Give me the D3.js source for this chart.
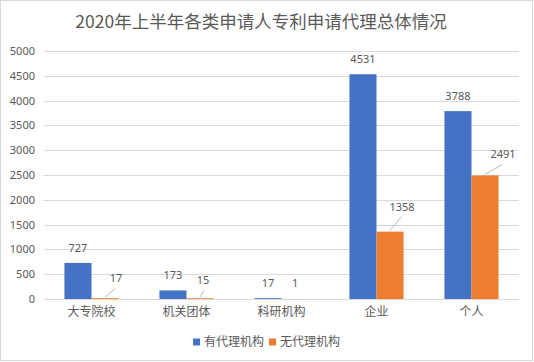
<!DOCTYPE html>
<html>
<head>
<meta charset="utf-8">
<script src="https://cdn.jsdelivr.net/npm/d3@7"></script>
<style>
  body { margin: 0; background: #fff; }
  svg text { font-family: "Noto Sans CJK SC", "Noto Sans", sans-serif; fill: #595959; }
</style>
</head>
<body>
<svg id="chart" width="534" height="362"></svg>
<script>
// Données
var categories = ["大专院校", "机关团体", "科研机构", "企业", "个人"];
var seriesNames = ["有代理机构", "无代理机构"];
var withAgency = [727, 173, 17, 4531, 3788];
var withoutAgency = [17, 15, 1, 1358, 2491];
var yTicks = [0, 500, 1000, 1500, 2000, 2500, 3000, 3500, 4000, 4500, 5000];
var colors = ["#4472C4", "#ED7D31"];

// Décalage manuel des étiquettes orange (comme dans Excel), en pixels
var orangeLabelShift = [[11, -20], [3, -18], [0, -16], [12, -25], [18, -21]];

var svg = d3.select("#chart");
var margin = { left: 44, right: 15, top: 51, bottom: 63 };
var width = 534 - margin.left - margin.right;
var height = 362 - margin.top - margin.bottom;

// bordure
svg.append("rect")
    .attr("x", 0.5).attr("y", 0.5)
    .attr("width", 532).attr("height", 360)
    .attr("fill", "#fff")
    .attr("stroke", "#d9d9d9");

svg.append("text")
    .attr("x", 261).attr("y", 28)
    .attr("text-anchor", "middle")
    .style("font-size", "17.5px")
    .text("2020年上半年各类申请人专利申请代理总体情况");

var g = svg.append("g")
    .attr("transform", "translate(" + margin.left + "," + margin.top + ")");

var x = d3.scaleBand().domain(categories).range([0, width]).paddingInner(0.43).paddingOuter(0.215);
var xs = d3.scaleBand().domain(seriesNames).range([0, x.bandwidth()]);
var y = d3.scaleLinear().domain([0, 5000]).range([height, 0]);

// lignes de grille
g.append("g").selectAll("line")
    .data(yTicks)
    .enter().append("line")
    .attr("x1", 0).attr("x2", width)
    .attr("y1", d => Math.round(y(d)) + 0.5).attr("y2", d => Math.round(y(d)) + 0.5)
    .style("stroke", "#d9d9d9");

// axe Y
var yAxis = g.append("g")
    .call(d3.axisLeft(y).tickValues(yTicks).tickFormat(d3.format("d")).tickSize(0).tickPadding(9));
yAxis.select(".domain").remove();
yAxis.selectAll("text").style("font-size", "11px").style("fill", "#595959")
    .style("font-family", "'Noto Sans', sans-serif");

// axe X
var xAxis = g.append("g")
    .attr("transform", "translate(0," + height + ")")
    .call(d3.axisBottom(x).tickSize(0).tickPadding(8));
xAxis.select(".domain").remove();
xAxis.selectAll("text").style("font-size", "12px").style("fill", "#595959")
    .style("font-family", "'Noto Sans CJK SC', sans-serif");

var rows = categories.map((c, i) => ({ cat: c, i: i, vals: [withAgency[i], withoutAgency[i]] }));

var groups = g.append("g").selectAll("g")
    .data(rows)
    .enter().append("g")
    .attr("transform", d => "translate(" + x(d.cat) + ",0)");

groups.selectAll("rect")
    .data(d => d.vals.map((v, k) => ({ v: v, k: k })))
    .enter().append("rect")
    .attr("x", d => xs(seriesNames[d.k]))
    .attr("width", xs.bandwidth())
    .attr("y", d => y(d.v))
    .attr("height", d => height - y(d.v))
    .attr("fill", d => colors[d.k]);

// étiquettes bleues
groups.append("text")
    .attr("x", xs(seriesNames[0]) + xs.bandwidth() / 2)
    .attr("y", d => y(d.vals[0]) - 11)
    .attr("text-anchor", "middle")
    .style("font-size", "11px")
    .style("font-family", "'Noto Sans', sans-serif")
    .text(d => d.vals[0]);

// étiquettes orange avec lignes de rappel
groups.each(function (d) {
    var gr = d3.select(this);
    var cx = xs(seriesNames[1]) + xs.bandwidth() / 2;
    var top = y(d.vals[1]);
    var s = orangeLabelShift[d.i];
    if (s[0] !== 0) {
        gr.append("line")
            .attr("x1", cx).attr("y1", top - 1)
            .attr("x2", cx + s[0] * (s[0] > 5 ? 0.95 : 1.3)).attr("y2", top + s[1] + 10)
            .style("stroke", "#a6a6a6")
            .style("stroke-width", 0.8);
    }
    gr.append("text")
        .attr("x", cx + s[0])
        .attr("y", top + s[1] + 4)
        .attr("text-anchor", "middle")
        .style("font-size", "11px")
        .style("font-family", "'Noto Sans', sans-serif")
        .text(d.vals[1]);
});

// légende
var legend = svg.append("g").attr("transform", "translate(193,342)");
var items = legend.selectAll("g")
    .data(seriesNames)
    .enter().append("g")
    .attr("transform", (d, i) => "translate(" + (i * 76) + ",0)");
items.append("rect")
    .attr("x", 0).attr("y", -3.5)
    .attr("width", 7).attr("height", 7)
    .attr("fill", (d, i) => colors[i]);
items.append("text")
    .attr("x", 11).attr("y", 4)
    .style("font-size", "12px")
    .text(d => d);
</script>
</body>
</html>
